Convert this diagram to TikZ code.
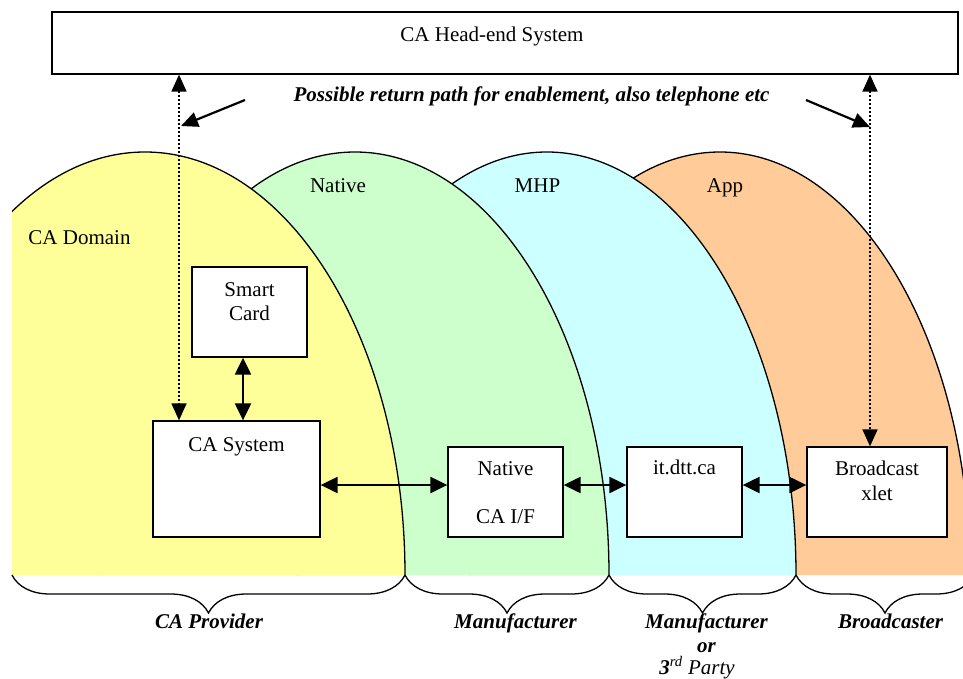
\documentclass[tikz,border=0pt]{standalone}
\usepackage{fontspec}
\setmainfont{Liberation Serif}
\usetikzlibrary{arrows.meta,decorations.pathreplacing}
\definecolor{cayel}{HTML}{FFFF99}
\definecolor{cagrn}{HTML}{CCFFCC}
\definecolor{cacyn}{HTML}{CCFFFF}
\definecolor{caorg}{HTML}{FFCC99}
\begin{document}
\begin{tikzpicture}[x=1pt,y=-1pt,
  every node/.style={font=\fontsize{21}{24}\selectfont},
  txt/.style={anchor=base,inner sep=0pt},
  bitxt/.style={txt,font=\fontsize{21}{24}\selectfont\bfseries\itshape},
  box/.style={draw,fill=white,line width=1.3pt,inner sep=0pt},
  archline/.style={line width=1.3pt},
  dbl/.style={line width=2.2pt,{Triangle[length=17pt 0 0,width=16pt 0 0]}-{Triangle[length=17pt 0 0,width=16pt 0 0]}},
  dotarrow/.style={line width=1.6pt,dash pattern=on 1.6pt off 2.4pt,{Triangle[length=17pt 0 0,width=15pt 0 0]}-{Triangle[length=17pt 0 0,width=15pt 0 0]}},
  pointer/.style={line width=2.2pt,-{Triangle[length=17pt 0 0,width=15pt 0 0]}},
  bracestyle/.style={line width=1.3pt,decorate,decoration={brace,amplitude=38pt}}]
\useasboundingbox (0,0) rectangle (963,678);

% arches
\begin{scope}
\clip (12,0) rectangle (963,575);
\fill[caorg] (470,575) .. controls (470,341.4) and (581.9,152) .. (720,152) .. controls (858.1,152) and (970,341.4) .. (970,575) -- cycle;
\draw[archline] (470,575) .. controls (470,341.4) and (581.9,152) .. (720,152) .. controls (858.1,152) and (970,341.4) .. (970,575);
\fill[cacyn] (298,575) .. controls (298,341.4) and (409.5,152) .. (547,152) .. controls (684.5,152) and (796,341.4) .. (796,575) -- cycle;
\draw[archline] (298,575) .. controls (298,341.4) and (409.5,152) .. (547,152) .. controls (684.5,152) and (796,341.4) .. (796,575);
\fill[cagrn] (101,575) .. controls (101,341.4) and (214.7,152) .. (355,152) .. controls (495.3,152) and (609,341.4) .. (609,575) -- cycle;
\draw[archline] (101,575) .. controls (101,341.4) and (214.7,152) .. (355,152) .. controls (495.3,152) and (609,341.4) .. (609,575);
\fill[cayel] (-115,575) .. controls (-115,341.4) and (1.4,152) .. (145,152) .. controls (288.6,152) and (405,341.4) .. (405,575) -- cycle;
\draw[archline] (-115,575) .. controls (-115,341.4) and (1.4,152) .. (145,152) .. controls (288.6,152) and (405,341.4) .. (405,575);
\end{scope}

% braces
\begin{scope}
\clip (0,560) rectangle (963,640);
\coordinate (b0) at (12,575);
\coordinate (b1) at (405,575);
\coordinate (b2) at (609,575);
\coordinate (b3) at (796,575);
\coordinate (b4) at (974,575);
\draw[bracestyle] (b1) -- (b0);
\draw[bracestyle] (b2) -- (b1);
\draw[bracestyle] (b3) -- (b2);
\draw[bracestyle] (b4) -- (b3);
\end{scope}

% boxes
\node[box,minimum width=906pt,minimum height=62pt] (he) at (505,43) {};
\node[box,minimum width=115pt,minimum height=90pt] (sc) at (249.5,312) {};
\node[box,minimum width=167pt,minimum height=116pt] (cas) at (236.5,479) {};
\node[box,minimum width=115pt,minimum height=90pt] (nat) at (505.5,492) {};
\node[box,minimum width=115pt,minimum height=90pt] (itd) at (684.5,492) {};
\node[box,minimum width=140pt,minimum height=90pt] (bx) at (877,492) {};

% connectors
\coordinate (hy) at (0,485);
\coordinate (vx) at (243,0);
\coordinate (lx) at (179,0);
\coordinate (rx) at (870,0);
\draw[dbl] (sc.south -| vx) -- (cas.north -| vx);
\draw[dbl] (cas.east |- hy) -- (nat.west |- hy);
\draw[dbl] (nat.east |- hy) -- (itd.west |- hy);
\draw[dbl] (itd.east |- hy) -- (bx.west |- hy);
\draw[dotarrow] (he.south -| lx) -- (cas.north -| lx);
\draw[dotarrow] (he.south -| rx) -- (bx.north -| rx);
\coordinate (p1s) at (245,100);
\coordinate (p1e) at (181,126);
\coordinate (p2s) at (806,100);
\coordinate (p2e) at (870,127);
\draw[pointer] (p1s) -- (p1e);
\draw[pointer] (p2s) -- (p2e);

% texts
\node[txt] (t0) at (492,41) {CA Head-end System};
\node[bitxt] (t1) at (531.5,101) {Possible return path for enablement, also telephone etc};
\node[txt] (lnat) at (338,192) {Native};
\node[txt] (lmhp) at (537.5,192) {MHP};
\node[txt] (lapp) at (725,192) {App};
\node[txt] (ldom) at (79.5,244) {CA Domain};
\node[txt] (sc1) at (249.5,296) {Smart};
\node[txt] (sc2) at (249.5,320) {Card};
\node[txt] (cas1) at (236.5,451) {CA System};
\node[txt] (nat1) at (505.5,475) {Native};
\node[txt] (nat2) at (505.5,523) {CA I/F};
\node[txt] (itd1) at (684.5,474) {it.dtt.ca};
\node[txt] (bx1) at (877,475) {Broadcast};
\node[txt] (bx2) at (877,500) {xlet};
\node[bitxt] (g1) at (209,628) {CA Provider};
\node[bitxt] (g2) at (515.5,628) {Manufacturer};
\node[bitxt] (g3) at (706.5,628) {Manufacturer};
\node[bitxt] (g4) at (706.5,652) {or};
\node[txt,font=\fontsize{21}{24}\selectfont\itshape] (g5) at (697,674) {\textbf{3}\textsuperscript{rd} Party};
\node[bitxt] (g6) at (890.5,628) {Broadcaster};
\end{tikzpicture}
\end{document}
